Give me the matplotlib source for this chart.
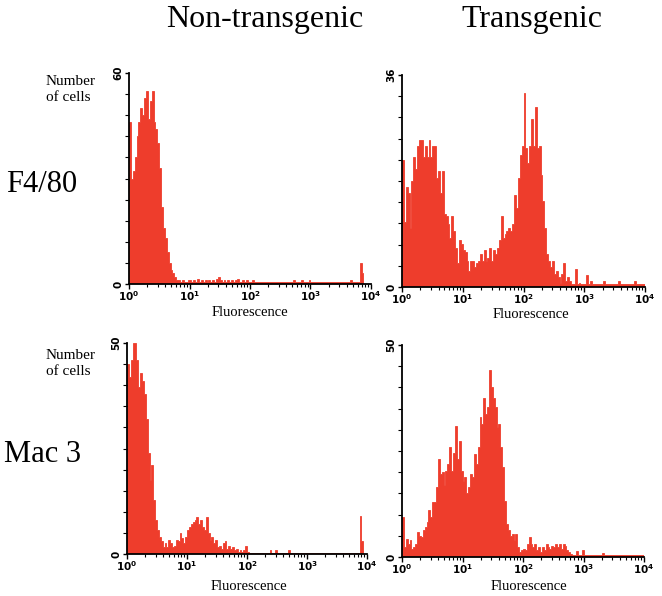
import matplotlib
matplotlib.use('Agg')
import matplotlib.pyplot as plt
from matplotlib.ticker import MultipleLocator, LogLocator, NullFormatter
import numpy as np

# Histogram channel counts, 32 channels per decade from 10^0 to 10^4
F480_NONTG = [
    46, 30, 32, 36, 42, 46, 50, 48, 53, 55, 47, 52, 55, 46, 44, 40,
    33, 22, 16, 13, 9, 6, 4, 3, 2, 1, 1, 0.5, 1, 0.5, 0.5, 1,
    1, 0.5, 1, 0.5, 1.5, 0.5, 1, 0.5, 1, 0.5, 1, 0.5, 1, 0.5, 1.5, 2,
    1, 0.5, 1, 0.5, 1, 0.5, 1, 0.5, 1, 1.5, 0.5, 0.5, 1, 0.5, 1, 0.5,
    0.5, 1, 0.5, 0.5, 0.5, 0.5, 0.5, 0.5, 0.5, 0.5, 0.5, 0.5, 0.5, 0.5, 0.5, 0.5,
    0.5, 0.5, 0.5, 0.5, 0.5, 0.5, 0.5, 1, 0.5, 0.5, 0.5, 1, 0.5, 0.5, 0.5, 1,
    0.5, 0.5, 0.5, 0.5, 0.5, 0.5, 0.5, 0.5, 0.5, 0.5, 0.5, 0.5, 0.5, 0.5, 0.5, 0.5,
    0.5, 0.5, 0.5, 0.5, 0.5, 1, 0.5, 0.5, 0.5, 0.5, 6, 3, 0, 0, 0, 0,
]
F480_TG = [
    21.6, 11, 17, 16, 10, 18, 22, 20, 24, 25, 25, 22, 24, 22, 25, 22,
    24, 24, 18.5, 19.7, 16, 19.7, 12.4, 12, 10.7, 8.4, 12, 9.5, 6.7, 4, 8, 7.3,
    6.2, 6, 4.5, 2.8, 4.5, 4.5, 3.4, 4, 4.5, 5.6, 4.5, 6.2, 4.5, 5, 6.7, 4.5,
    6.2, 5.6, 6.7, 8, 12, 8.4, 9, 9.5, 10, 9.5, 10.7, 15.7, 13.5, 18.5, 22.5, 24,
    33, 23.6, 21, 24, 28.6, 24, 30.6, 23.6, 24, 19, 14.6, 10, 5.6, 4.5, 3.4, 4.5,
    2.2, 2.8, 1.7, 0.6, 2.2, 4, 1, 1.7, 1, 0.5, 0.5, 3, 0.5, 0.7, 0.5, 0.5,
    0.5, 2, 0.5, 1, 0.5, 0.5, 0.5, 0.5, 0.5, 0.5, 1, 0.5, 0.5, 0.5, 0.5, 0.5,
    0.5, 0.5, 1, 0.5, 0.5, 0.5, 0.5, 0.5, 0.5, 0.5, 1, 0.5, 0.5, 0.5, 0.5, 0.5,
]
MAC3_NONTG = [
    45, 42, 46, 50, 50, 46, 39.5, 43, 41, 38, 32, 24, 17.5, 21, 12.8, 8,
    5.7, 4, 3, 1.7, 2.5, 1.7, 3.3, 2.5, 1.7, 2, 3.3, 3, 5, 3.7, 2.5, 4,
    5.7, 6.5, 7.2, 7.6, 8, 8.8, 7.2, 8, 6.5, 5.7, 8.8, 5, 3.3, 4, 2.5, 3.3,
    1.7, 2, 1.3, 2.5, 3, 1.3, 2, 1.3, 1.7, 1, 1.3, 0.5, 1, 0.5, 1, 2,
    0.5, 0.3, 0.3, 0.3, 0.3, 0.3, 0.3, 0.3, 0.3, 0.3, 0.3, 0.3, 1, 0.3, 0.3, 1,
    0.3, 0.3, 0.3, 0.3, 0.3, 0.3, 1, 0.3, 0.3, 0.3, 0.3, 0.3, 0.3, 0.3, 0.3, 0.3,
    0.3, 0.3, 0.3, 0.3, 0.3, 0.3, 0.3, 0.3, 0.3, 0.3, 0.3, 0.3, 0.3, 0.3, 0.3, 0.3,
    0.3, 0.3, 0.3, 0.3, 0.3, 0.3, 0.3, 0.3, 0.3, 0.3, 0.3, 0.3, 9, 3, 0, 0,
]
MAC3_TG = [
    9.4, 2.4, 4.3, 3, 4, 2, 2.4, 3, 6, 5, 4.7, 6.3, 7, 8.2, 11, 9.4,
    13, 13, 16.5, 23, 19.6, 20, 17, 20.4, 22, 26, 20.4, 24.5, 31, 23, 27.4, 20.4,
    18, 18.8, 15, 16.5, 19.6, 18.8, 24.3, 22, 26, 33, 31.3, 37.6, 33.7, 35.3, 44, 40,
    37.6, 35.3, 30.6, 31.3, 26, 21.2, 13.3, 7.8, 6.3, 5, 5.5, 4, 5.5, 2.4, 1.2, 1.6,
    2, 1.6, 3.1, 4.7, 3.1, 2.4, 3.1, 1.6, 2.4, 1.2, 2.4, 1.6, 3.1, 2.4, 2, 2.7,
    2.4, 3.1, 2.4, 3.1, 2, 3.1, 2.7, 1.6, 1.2, 0.8, 0.4, 0.4, 1.3, 0.4, 0.4, 1.7,
    0.4, 0.4, 0.4, 0.4, 0.4, 0.4, 0.4, 0.4, 0.4, 0.4, 1, 0.4, 0.4, 0.4, 0.4, 0.4,
    0.4, 0.4, 0.4, 0.4, 0.4, 0.4, 0.4, 0.4, 0.4, 0.4, 0.4, 0.4, 0.4, 0.4, 0.4, 0.4,
]

Y_MAX = [60, 36, 50, 50]
COLUMN_TITLES = ['Non-transgenic', 'Transgenic']
ROW_LABELS = ['F4/80', 'Mac 3']
X_LABEL = 'Fluorescence'
X_TICK_LABELS = [r'$\mathbf{10^{%d}}$' % k for k in range(5)]

SERIF = 'Liberation Serif'
FILL = '#EE3D2C'

fig = plt.figure(figsize=(6.62, 5.96), dpi=100)
W, H = 662, 596


def px_axes(left, right, top, bottom):
    return fig.add_axes([left / W, (H - bottom) / H, (right - left) / W, (bottom - top) / H])


# (counts, y max, axes, x-label position in px)
panels = [
    (F480_NONTG, Y_MAX[0], px_axes(129, 371, 73, 284), (250, 313)),
    (F480_TG, Y_MAX[1], px_axes(402, 645, 75, 287), (531, 315)),
    (MAC3_NONTG, Y_MAX[2], px_axes(127, 367, 343, 554), (249, 586)),
    (MAC3_TG, Y_MAX[3], px_axes(402, 644, 345, 557), (529, 587)),
]

edges = 10 ** (np.arange(129) / 32.0)

for counts, ymax, ax, (lx, ly) in panels:
    ax.stairs(np.minimum(counts, ymax), edges, fill=True, color=FILL,
              edgecolor=FILL, linewidth=0.6)
    ax.set_xscale('log')
    ax.set_xlim(1, 1e4)
    ax.set_ylim(0, ymax)
    for s in ['top', 'right']:
        ax.spines[s].set_visible(False)
    for s in ['left', 'bottom']:
        ax.spines[s].set_linewidth(1.3)
        ax.spines[s].set_color('black')
    ax.set_xticks([1, 10, 100, 1000, 10000])
    ax.set_xticklabels(X_TICK_LABELS, fontsize=7.5)
    ax.xaxis.set_minor_locator(LogLocator(base=10, subs=np.arange(2, 10)))
    ax.xaxis.set_minor_formatter(NullFormatter())
    ax.tick_params(axis='x', which='major', length=3.5, width=1, pad=0)
    ax.tick_params(axis='x', which='minor', length=2.5, width=0.8)
    ax.set_yticks([0, ymax])
    ax.set_yticklabels(['0', str(ymax)], rotation=90, va='center',
                       fontsize=7.5, fontweight='bold')
    ax.yaxis.set_minor_locator(MultipleLocator(ymax / 10))
    ax.tick_params(axis='y', which='major', length=3, width=1, pad=1)
    ax.tick_params(axis='y', which='minor', length=3, width=0.8)
    fig.text(lx / W, 1 - ly / H, X_LABEL, ha='center', va='center',
             fontsize=10.5, family=SERIF)

# column titles
fig.text(265 / W, 1 - 19 / H, COLUMN_TITLES[0], ha='center', va='center',
         fontsize=23, family=SERIF)
fig.text(532 / W, 1 - 19 / H, COLUMN_TITLES[1], ha='center', va='center',
         fontsize=23, family=SERIF)

# row labels
fig.text(42 / W, 1 - 184 / H, ROW_LABELS[0], ha='center', va='center',
         fontsize=22, family=SERIF)
fig.text(43 / W, 1 - 454 / H, ROW_LABELS[1], ha='center', va='center',
         fontsize=22, family=SERIF)

# y-axis captions
for top in [75, 349]:
    fig.text(46 / W, 1 - top / H, 'Number\nof cells', ha='left', va='top',
             fontsize=11, family=SERIF, linespacing=1.3)

fig.savefig('out.png', dpi=100, facecolor='white')
